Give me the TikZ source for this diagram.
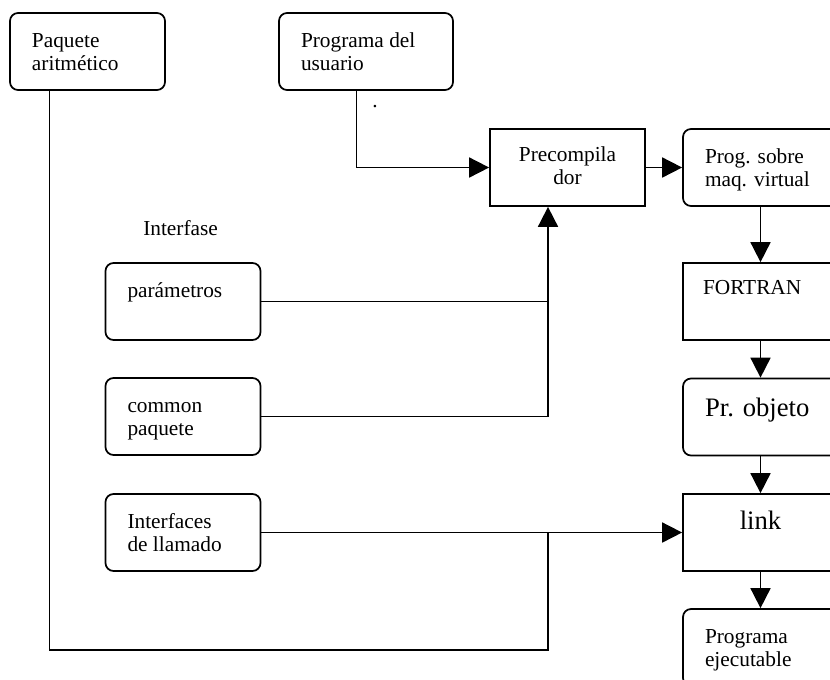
\documentclass[tikz,border=0pt]{standalone}
\usepackage{fontspec}
\setmainfont{Liberation Serif}
\usetikzlibrary{arrows.meta,calc}
% px -> pt : 0.75
\newcommand\txtL[2][116.25pt]{\parbox[c][57.75pt][t]{#1}{\fontsize{16}{17.3}\selectfont\raggedright\leftskip=16.5pt\rule{0pt}{26pt}#2}}
\newcommand\txtC[1]{\parbox[c][57.75pt][t]{116.25pt}{\fontsize{16}{17.3}\selectfont\centering\rule{0pt}{24.5pt}#1}}
\newcommand\txtBigL[1]{\parbox[c][57.75pt][t]{116.25pt}{\fontsize{20}{23}\selectfont\raggedright\leftskip=16.5pt\rule{0pt}{28.5pt}#1}}
\newcommand\txtBigC[1]{\parbox[c][57.75pt][t]{116.25pt}{\fontsize{20}{23}\selectfont\centering\rule{0pt}{26.5pt}#1}}
\begin{document}
\begin{tikzpicture}[x=0.75pt,y=-0.75pt,
  rbox/.style={draw,line width=1.3pt,rounded corners=6pt,inner sep=0pt},
  sbox/.style={draw,line width=1.3pt,inner sep=0pt},
  conn/.style={line width=1.3pt},
  arr/.style={conn,-{Triangle[length=15pt,width=15pt]}}]
\useasboundingbox (0,0) rectangle (830,679);
\clip (0,0) rectangle (830,679);
% top
\node[rbox] (pa) at (87.5,51.5) {\txtL{Paquete\\aritmético}};
\node[rbox] (pu) at (366,51.5) {\txtL[130.5pt]{Programa del\\usuario}};
\node (dot) at (375,107) {\fontsize{16}{17.3}\selectfont .};
\node[sbox] (pre) at (567.5,167.5) {\txtC{Precompila\\dor}};
\node[rbox] (psv) at (760.5,167.5) {\txtL{Prog. sobre\\maq. virtual}};
% interfase
\node[anchor=base west,inner sep=0pt] (ifl) at (143,235) {\fontsize{16}{17.3}\selectfont Interfase};
\node[rbox] (par) at (183,301.5) {\txtL{parámetros}};
\node[rbox] (com) at (183,416.5) {\txtL{common\\paquete}};
\node[rbox] (ill) at (183,532.5) {\txtL{Interfaces\\de llamado}};
% right column
\node[sbox] (fort) at (760.5,301.5) {\parbox[c][57.75pt][t]{116.25pt}{\fontsize{16}{17.3}\selectfont\raggedright\leftskip=15pt\rule{0pt}{23.5pt}FORTRAN}};
\node[rbox] (pro) at (760.5,417) {\txtBigL{Pr. objeto}};
\node[sbox] (lnk) at (760.5,532.5) {\txtBigC{link}};
\node[rbox] (pe) at (760.5,647.5) {\txtL{Programa\\ejecutable}};
% coordinates
\coordinate (pb) at ($(pre.south)+(-19.5,0)$);
\coordinate (j2) at (ill.east -| pb);
\coordinate (pus) at ($(pu.south)+(-9.5,0)$);
\coordinate (pas) at ($(pa.south)+(-38,0)$);
\coordinate (bot) at ($(j2)+(0,117.5)$);
% connectors
\draw[arr] (pus) |- (pre.west);
\draw[arr] (pre.east) -- (psv.west);
\draw[arr] (psv.south) -- (fort.north);
\draw[arr] (fort.south) -- (pro.north);
\draw[arr] (pro.south) -- (lnk.north);
\draw[arr] (lnk.south) -- (pe.north);
\draw[conn] (par.east) -- (par.east -| pb);
\draw[arr] (com.east) -| (pb);
\draw[arr] (ill.east) -- (lnk.west);
\draw[conn] (pas) |- (bot) -- (j2);
\end{tikzpicture}
\end{document}
